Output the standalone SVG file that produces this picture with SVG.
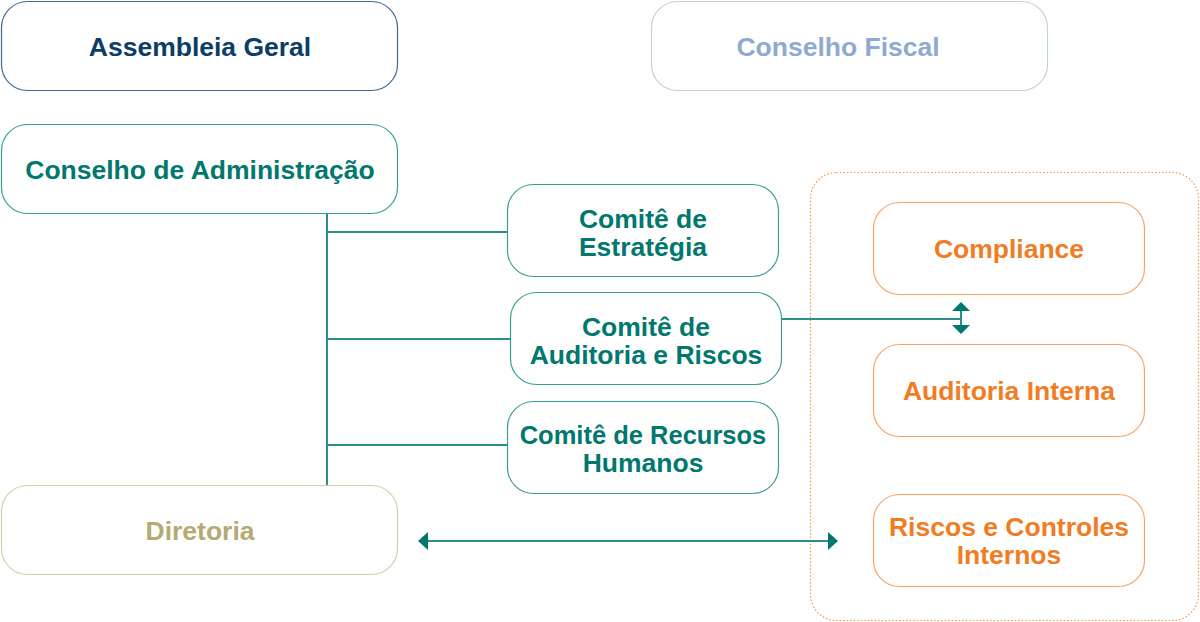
<svg xmlns="http://www.w3.org/2000/svg" width="1200" height="622" viewBox="0 0 1200 622">
<style>
  text { font-family: "Liberation Sans", Arial, sans-serif; font-weight: bold; font-size: 26.5px; text-anchor: middle; }
  .box { fill: #ffffff; stroke-width: 1.2; }
  .teal { stroke: #3a9e95; }
  .tealt { fill: #00786e; }
  .orange { stroke: #f5a468; }
  .oranget { fill: #f07c24; }
  .conn { stroke: #2a9088; stroke-width: 2; fill: none; }
  .head { fill: #00786e; }
</style>
<rect width="1200" height="622" fill="#ffffff"/>

<g id="container-controle">
  <rect x="810.5" y="172.5" width="388" height="448" rx="26" fill="none" stroke="#f5994f" stroke-width="1.2" stroke-dasharray="1.5 2"/>
</g>

<g id="node-assembleia">
  <rect class="box" x="1.5" y="1.5" width="396" height="89" rx="26" stroke="#3d6a93"/>
  <text x="200" y="56" fill="#0b3d66">Assembleia Geral</text>
</g>

<g id="node-fiscal">
  <rect class="box" x="651.5" y="1.5" width="396" height="89" rx="26" stroke="#c3d0de"/>
  <text x="838" y="56" fill="#8faad0">Conselho Fiscal</text>
</g>

<g id="node-administracao">
  <rect class="box teal" x="1.5" y="124.5" width="396" height="89" rx="26"/>
  <text class="tealt" x="200" y="179">Conselho de Administração</text>
</g>

<g id="node-estrategia">
  <rect class="box teal" x="507.5" y="184.5" width="271" height="92" rx="26"/>
  <text class="tealt" x="643" y="228"><tspan x="643">Comitê de</tspan><tspan x="643" dy="27.5">Estratégia</tspan></text>
</g>

<g id="node-auditoria-riscos">
  <rect class="box teal" x="510.5" y="292.5" width="271" height="92" rx="26"/>
  <text class="tealt" x="646" y="336"><tspan x="646">Comitê de</tspan><tspan x="646" dy="27.5">Auditoria e Riscos</tspan></text>
</g>

<g id="node-rh">
  <rect class="box teal" x="507.5" y="401.5" width="271" height="92" rx="26"/>
  <text class="tealt" x="643" y="444"><tspan x="643" style="font-size:25.5px">Comitê de Recursos</tspan><tspan x="643" dy="27.5">Humanos</tspan></text>
</g>

<g id="node-diretoria">
  <rect class="box" x="1.5" y="485.5" width="396" height="89" rx="26" stroke="#d6cfa6"/>
  <text x="200" y="540" fill="#b5aa76">Diretoria</text>
</g>

<g id="node-compliance">
  <rect class="box orange" x="873.5" y="202.5" width="271" height="92" rx="26"/>
  <text class="oranget" x="1009" y="258">Compliance</text>
</g>

<g id="node-auditoria-interna">
  <rect class="box orange" x="873.5" y="344.5" width="271" height="92" rx="26"/>
  <text class="oranget" x="1009" y="400">Auditoria Interna</text>
</g>

<g id="node-riscos">
  <rect class="box orange" x="873.5" y="494.5" width="271" height="92" rx="26"/>
  <text class="oranget" x="1009" y="536"><tspan x="1009">Riscos e Controles</tspan><tspan x="1009" dy="27.5">Internos</tspan></text>
</g>

<g id="connectors">
  <line class="conn" x1="327" y1="214" x2="327" y2="485"/>
  <line class="conn" x1="327" y1="232" x2="507" y2="232"/>
  <line class="conn" x1="327" y1="339" x2="510" y2="339"/>
  <line class="conn" x1="327" y1="445" x2="507" y2="445"/>
  <line class="conn" x1="782" y1="319" x2="961" y2="319"/>
  <line class="conn" x1="961" y1="310" x2="961" y2="326"/>
  <polygon class="head" points="961,302 970,311 952,311"/>
  <polygon class="head" points="961,334 970,325 952,325"/>
  <line class="conn" x1="426" y1="541" x2="830" y2="541"/>
  <polygon class="head" points="418,541 428,532 428,550"/>
  <polygon class="head" points="838,541 828,532 828,550"/>
</g>
</svg>
